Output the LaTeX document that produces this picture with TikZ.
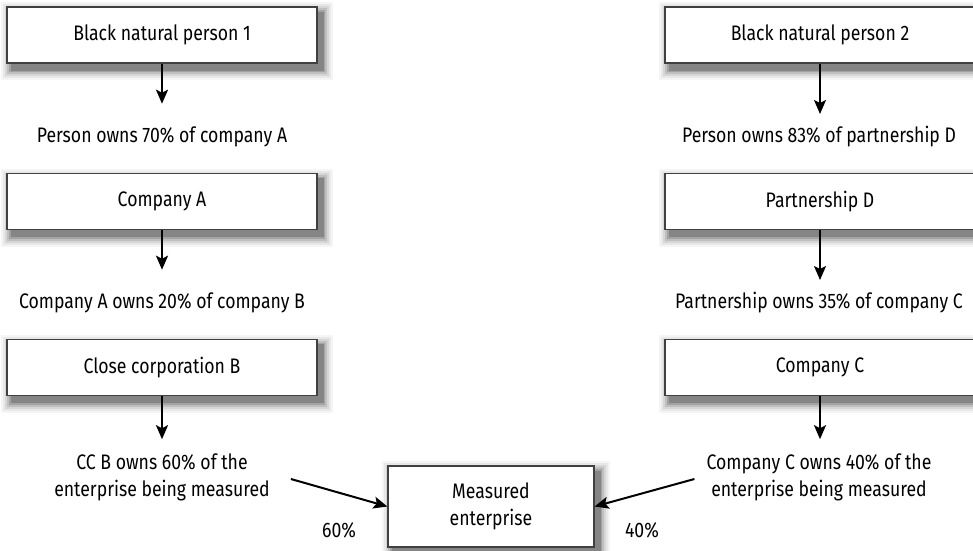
\documentclass[tikz,border=0pt]{standalone}
\usepackage{fontspec}
\setmainfont{Fira Sans}[FakeStretch=0.84]
\usetikzlibrary{arrows.meta}

\tikzset{
	% soft shadow out of a few widened grey copies, lightest first
	shadowlayer/.style 2 args={preaction={draw=black!#1, fill=black!#1, line width=#2,
		transform canvas={xshift=5pt, yshift=-6pt}}},
	softshadow/.style={shadowlayer={4}{22pt}, shadowlayer={9}{18pt}, shadowlayer={16}{14pt},
		shadowlayer={25}{10pt}, shadowlayer={36}{6pt}, shadowlayer={48}{3pt}},
	holder/.style={softshadow, draw=black!75, line width=1.2pt, fill=white,
		minimum width=310pt, minimum height=56pt, align=center},
	share/.style={align=center, inner sep=0pt},
	link/.style={line width=2pt, -{Stealth[length=14pt,width=12pt,inset=3pt]}}
}

\begin{document}
\begin{tikzpicture}[x=1pt,y=-1pt,font=\fontsize{21}{27}\selectfont]
	\useasboundingbox (0,0) rectangle (973,550);
	% left chain
	\node[holder] (bnpA) at (162,35) {Black natural person 1};
	\node[share] (ownA) at (162,137) {Person owns 70\% of company A};
	\node[holder] (coA) at (162,201.5) {Company A};
	\node[share] (ownCoA) at (162,303) {Company A owns 20\% of company B};
	\node[holder] (ccB) at (162,367.5) {Close corporation B};
	\node[share] (ownCcB) at (162,477) {CC B owns 60\% of the\\enterprise being measured};
	% right chain
	\node[holder] (bnpB) at (820,35) {Black natural person 2};
	\node[share] (ownB) at (819,137) {Person owns 83\% of partnership D};
	\node[holder] (ptD) at (820,201.5) {Partnership D};
	\node[share] (ownPtD) at (819,303) {Partnership owns 35\% of company C};
	\node[holder] (coC) at (820,367.5) {Company C};
	\node[share] (ownCoC) at (819,477) {Company C owns 40\% of the\\enterprise being measured};
	% the enterprise itself
	\node[holder, minimum width=206pt, minimum height=81pt] (meas) at (491,506.5) {Measured\\enterprise};
	\node (pctL) at (339,530) {60\%};
	\node (pctR) at (642,530) {40\%};

	\draw[link, shorten >=23pt] (bnpA) -- (ownA);
	\draw[link, shorten >=23pt] (coA) -- (ownCoA);
	\draw[link, shorten >=14pt] (ccB) -- (ccB |- ownCcB.north);
	\draw[link, shorten >=23pt] (bnpB) -- (bnpB |- ownB);
	\draw[link, shorten >=23pt] (ptD) -- (ptD |- ownPtD);
	\draw[link, shorten >=14pt] (coC) -- (coC |- ownCoC.north);
	\draw[link] ([xshift=21pt,yshift=-2pt]ownCcB.east) -- (meas.west);
	\draw[link] ([xshift=-12pt,yshift=-2pt]ownCoC.west) -- (meas.east);
\end{tikzpicture}
\end{document}
